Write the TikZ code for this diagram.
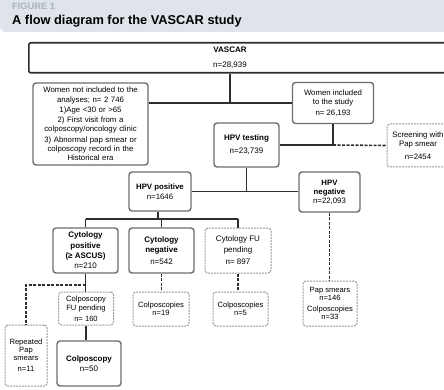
\documentclass[tikz,border=0pt]{standalone}
\usepackage{fontspec}
\setmainfont{Liberation Sans}
\usetikzlibrary{positioning,calc}
\definecolor{bandgray}{HTML}{DFE4EA}
\definecolor{figgray}{HTML}{A9B3BF}
\definecolor{boxline}{HTML}{6E6E6E}
\definecolor{dashline}{HTML}{9A9A9A}
\definecolor{linkline}{HTML}{2E2E2E}
\begin{document}
\begin{tikzpicture}[x=1pt,y=-1pt,
  solidbox/.style={draw=boxline, line width=1.4pt, rounded corners=3pt, align=center,
    font=\fontsize{7.8}{9.5}\selectfont, inner sep=1pt},
  dashbox/.style={solidbox, draw=dashline, line width=1pt, dash pattern=on 2pt off 1pt},
  link/.style={draw=linkline, line width=1.6pt},
  dashlink/.style={link, dash pattern=on 3pt off 1.5pt}]
\clip (0,0) rectangle (444,390);
\fill[white] (0,0) rectangle (444,390);
% Header band
\fill[bandgray, rounded corners=6pt] (0,-10) rectangle (460,32);
\node[font=\fontsize{9.3}{10}\selectfont\bfseries, text=figgray, anchor=west, inner sep=0pt] (figno) at (12,6) {FIGURE 1};
\node[font=\fontsize{12.8}{14}\selectfont\bfseries, anchor=west, inner sep=0pt] (title) at (12,21) {A flow diagram for the VASCAR study};
% Whole cohort
\node[draw=linkline, line width=1.6pt, rounded corners=2pt, minimum width=440pt, minimum height=30pt, anchor=north west] (vascar) at (28,42) {};
\node[align=center, font=\fontsize{8}{15}\selectfont] (vascartxt) at (230,57.5) {\textbf{VASCAR}\\n=28,939};
% Excluded / included
\node[solidbox, minimum width=115pt, minimum height=82pt, text width=112pt, font=\fontsize{7.8}{9.3}\selectfont] (notinc) at (90.5,124)
  {Women not included to the\\analyses; n= 2 746\\[1pt]1)Age <30 or >65\\[1pt]2) First visit from a\\colposcopy/oncology clinic\\[1pt]3) Abnormal pap smear or\\colposcopy record in the\\Historical era};
\node[solidbox, minimum width=81pt, minimum height=41pt] (inc) at (333,103) {Women included\\to the study\\[1.5pt]n= 26,193};
\node[dashbox, minimum width=62pt, minimum height=43pt] (screen) at (418,145.5) {Screening with\\Pap smear\\[3pt]n=2454};
% HPV testing
\node[solidbox, minimum width=65pt, minimum height=44pt, font=\fontsize{8}{13}\selectfont] (hpvt) at (246.5,145) {\textbf{HPV testing}\\n=23,739};
\node[solidbox, minimum width=62pt, minimum height=39pt] (hpvpos) at (160,191.5) {\textbf{HPV positive}\\n=1646};
\node[solidbox, minimum width=61pt, minimum height=40pt, font=\fontsize{7.8}{9}\selectfont] (hpvneg) at (329.5,192) {\textbf{HPV}\\\textbf{negative}\\n=22,093};
% Cytology
\node[solidbox, minimum width=65pt, minimum height=45pt, font=\fontsize{8}{10.3}\selectfont] (cytpos) at (85.5,250.5) {\textbf{Cytology}\\\textbf{positive}\\\textbf{(≥ ASCUS)}\\n=210};
\node[solidbox, minimum width=65pt, minimum height=45pt, font=\fontsize{8}{10}\selectfont] (cytneg) at (161.5,250.5) {\textbf{Cytology}\\\textbf{negative}\\[2pt]n=542};
\node[dashbox, minimum width=66pt, minimum height=45pt, font=\fontsize{8}{10.5}\selectfont] (cytfu) at (238,250.5) {Cytology FU\\pending\\[2pt]n= 897};
\node[dashbox, minimum width=54pt, minimum height=45pt, font=\fontsize{7.6}{8}\selectfont] (papneg) at (330,303.5) {Pap smears\\n=146\\[3pt]Colposcopies\\n=33};
% Follow-up
\node[dashbox, minimum width=55pt, minimum height=33pt, font=\fontsize{7.6}{9}\selectfont] (colfu) at (86,308.5) {Colposcopy\\FU pending\\[2pt]n= 160};
\node[solidbox, minimum width=64pt, minimum height=45pt, font=\fontsize{8}{9.5}\selectfont] (colpo) at (89,363.5) {\textbf{Colposcopy}\\n=50};
\node[dashbox, minimum width=42pt, minimum height=61pt, font=\fontsize{7.6}{8}\selectfont] (repeat) at (26,355.5) {Repeated\\Pap\\smears\\[3pt]n=11};
\node[dashbox, minimum width=56pt, minimum height=34pt, font=\fontsize{7.6}{8.5}\selectfont] (colneg) at (161,309) {Colposcopies\\n=19};
\node[dashbox, minimum width=55pt, minimum height=34pt, font=\fontsize{7.6}{8.5}\selectfont] (colfu2) at (240.5,309) {Colposcopies\\n=5};
% Connectors
\draw[link] (vascar.south -| vascartxt) -- (vascartxt |- inc.west);
\draw[link] (notinc.east |- inc.west) -- (inc.west);
\draw[link] (inc.south) -- (inc.south |- hpvt.east);
\draw[link] (hpvt.east) -- (inc.south |- hpvt.east);
\draw[dashlink] (inc.south |- hpvt.east) -- (screen.west);
\draw[link] (hpvt.south) -- (hpvt.south |- hpvneg.west);
\draw[link] (hpvpos.east) -- (hpvpos.east -| hpvneg.west);
% Cytology bus
\coordinate (bus) at ($(hpvpos.south)+(-2,7)$);
\draw[link] (hpvpos.south -| bus) -- (bus);
\draw[link] (cytpos.north |- bus) -- (cytfu.north |- bus);
\foreach \b in {cytpos,cytneg,cytfu}
  \draw[link] (\b.north |- bus) -- (\b.north);
\draw[dashlink] (hpvneg.south) -- (hpvneg.south |- papneg.north);
% Positive cytology follow-up
\draw[link] (cytpos.south) -- (cytpos.south |- colfu.north);
\coordinate (rep) at ($(cytpos.south)+(0,11)$);
\draw[dashlink] (rep) -| (repeat.north);
\draw[link] (colfu.south) -- (colfu.south |- colpo.north);
\foreach \a/\b in {cytneg/colneg,cytfu/colfu2}
  \draw[dashlink] (\a.south) -- (\a.south |- \b.north);
\end{tikzpicture}
\end{document}
